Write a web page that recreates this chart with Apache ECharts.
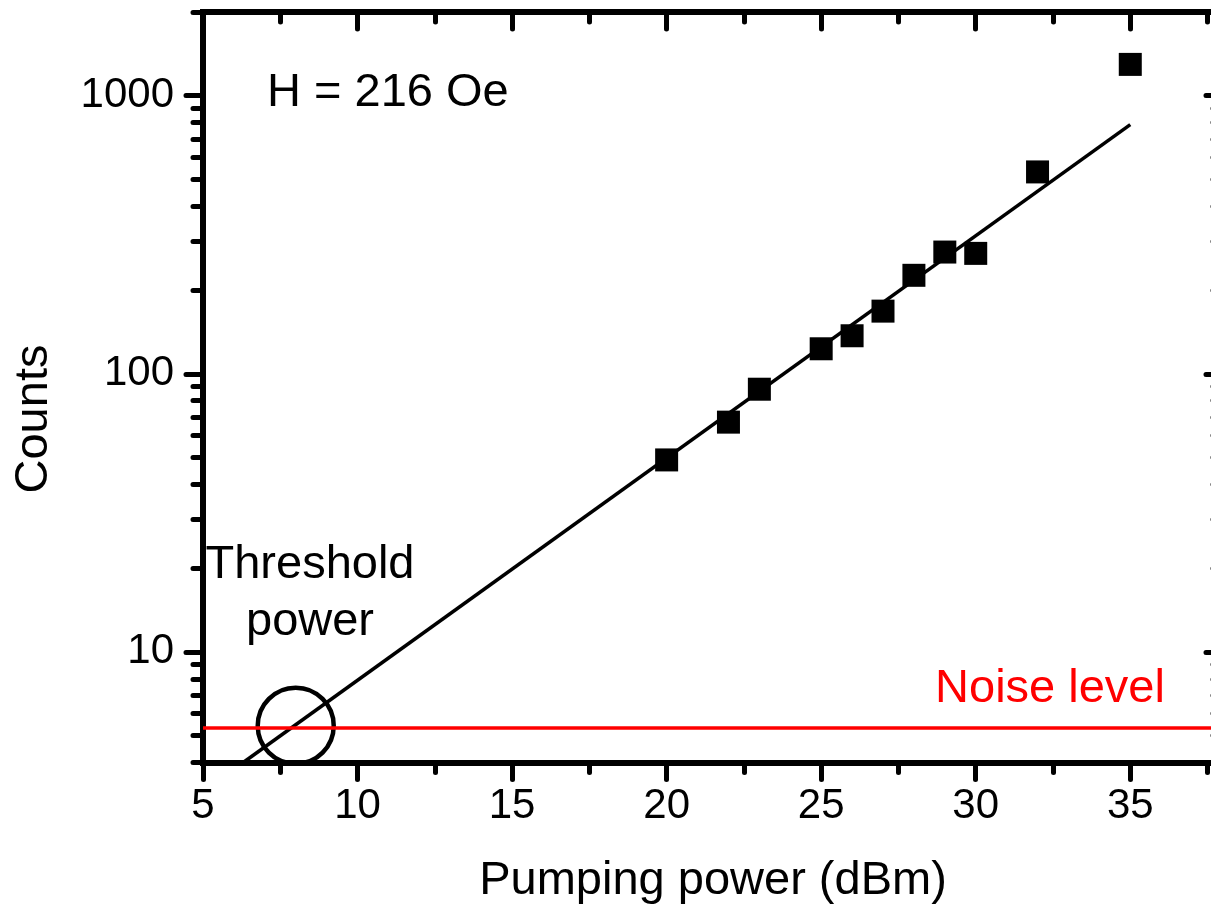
<!DOCTYPE html>
<html>
<head>
<meta charset="utf-8">
<script src="https://cdn.jsdelivr.net/npm/echarts@6/dist/echarts.min.js"></script>
<style>
html,body{margin:0;padding:0;background:#fff;}
#chart{width:1211px;height:906px;}
</style>
</head>
<body>
<div id="chart"></div>
<script>
// ---- data ----
const power = [20, 22, 23, 25, 26, 27, 28, 29, 30, 32, 35];
const counts = [49, 67, 88, 123, 137, 168, 226, 274, 271, 532, 1296];
const fitPower = [6.3, 35];
const fitCounts = [4.0, 787];
const noiseLevel = 5.33;
const thresholdPoint = [8, 5.42];
const xMajorTicks = [5, 10, 15, 20, 25, 30, 35];
const xMinorTicks = [7.5, 12.5, 17.5, 22.5, 27.5, 32.5, 37.5];
const yMajorTicks = [10, 100, 1000];
const yMinorTicks = [4, 5, 6, 7, 8, 9, 20, 30, 40, 50, 60, 70, 80, 90, 200, 300, 400, 500, 600, 700, 800, 900, 2000];
const xRange = [5, 38];
const yRange = [4, 2000];

const FONT = "'Liberation Sans', Arial, sans-serif";
const chart = echarts.init(document.getElementById('chart'), null, {renderer: 'canvas'});

function xAx(pos, major, inside, withLabel) {
  return {
    type: 'value', position: pos, min: xRange[0], max: xRange[1],
    axisLine: {show: major, onZero: false, lineStyle: {color: '#000', width: 6, cap: 'square'}},
    axisTick: {show: true, inside: inside, customValues: major ? xMajorTicks : xMinorTicks,
      length: major ? 17 : 10, lineStyle: {color: '#000', width: 5, cap: 'round'}},
    axisLabel: withLabel ? {show: true, customValues: xMajorTicks, fontSize: 42, fontFamily: FONT, color: '#000', margin: 23,
      formatter: v => String(v)} : {show: false},
    splitLine: {show: false}, minorTick: {show: false}
  };
}
function yAx(pos, major, inside, withLabel) {
  return {
    type: 'log', logBase: 10, position: pos, min: yRange[0], max: yRange[1],
    axisLine: {show: major, onZero: false, lineStyle: {color: '#000', width: 6, cap: 'square'}},
    axisTick: {show: true, inside: inside, customValues: major ? yMajorTicks : yMinorTicks,
      length: major ? 17 : 10, lineStyle: {color: '#000', width: 5, cap: 'round'}},
    axisLabel: withLabel ? {show: true, customValues: yMajorTicks, fontSize: 42, fontFamily: FONT, color: '#000', margin: 29,
      formatter: v => String(Math.round(v))} : {show: false},
    splitLine: {show: false}, minorTick: {show: false}
  };
}

const xAxes = [xAx('bottom', true, false, true), xAx('bottom', false, false, false),
               xAx('top', true, true, false), xAx('top', false, true, false)];
xAxes[0].name = 'Pumping power (dBm)';
xAxes[0].nameLocation = 'middle';
xAxes[0].nameGap = 95;
xAxes[0].nameTextStyle = {fontSize: 47, fontFamily: FONT, color: '#000'};

const yAxes = [yAx('left', true, false, true), yAx('left', false, false, false),
               yAx('right', true, true, false), yAx('right', false, true, false)];

const option = {
  animation: false,
  backgroundColor: '#fff',
  grid: {left: 203, right: -12, top: 12, bottom: 143.5, containLabel: false, outerBoundsMode: 'none'},
  xAxis: xAxes,
  yAxis: yAxes,
  graphic: [
    {type: 'text', x: 267, y: 93, style: {text: 'H = 216 Oe', fontSize: 47, fontFamily: FONT, fill: '#000', align: 'left', verticalAlign: 'middle'}},
    {type: 'text', x: 310, y: 537, style: {text: 'Threshold\npower', fontSize: 47, lineHeight: 57, fontFamily: FONT, fill: '#000', align: 'center', verticalAlign: 'top'}},
    {type: 'text', x: 1050, y: 689, style: {text: 'Noise level', fontSize: 47, fontFamily: FONT, fill: '#ff0000', align: 'center', verticalAlign: 'middle'}},
    {type: 'text', x: 34, y: 419, rotation: Math.PI / 2, style: {text: 'Counts', fontSize: 47, fontFamily: FONT, fill: '#000', align: 'center', verticalAlign: 'middle'}}
  ],
  series: [
    {
      type: 'line', xAxisIndex: 0, yAxisIndex: 0, z: 2,
      data: fitPower.map((p, i) => [p, fitCounts[i]]),
      showSymbol: false, symbol: 'none',
      lineStyle: {color: '#000', width: 3.5},
      markLine: {
        silent: true, symbol: ['none', 'none'], label: {show: false},
        lineStyle: {color: '#ff0000', width: 3.5, type: 'solid'},
        data: [{yAxis: noiseLevel}]
      }
    },
    {
      type: 'scatter', xAxisIndex: 0, yAxisIndex: 0, z: 3,
      data: [thresholdPoint], symbol: 'circle', symbolSize: 76,
      itemStyle: {color: 'rgba(0,0,0,0)', borderColor: '#000', borderWidth: 4.5, opacity: 1}
    },
    {
      type: 'scatter', xAxisIndex: 0, yAxisIndex: 0, z: 4,
      data: power.map((p, i) => [p, counts[i]]), symbol: 'rect', symbolSize: 23,
      itemStyle: {color: '#000', opacity: 1}
    }
  ]
};
chart.setOption(option);
</script>
</body>
</html>
